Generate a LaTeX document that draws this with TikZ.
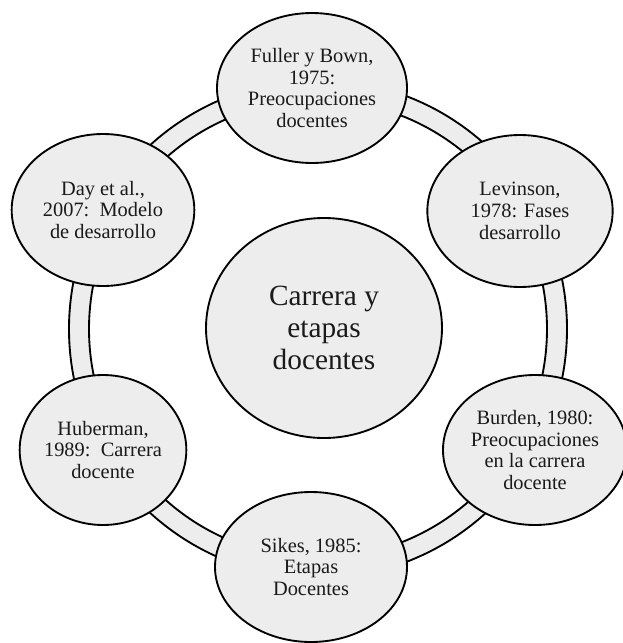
\documentclass[tikz,border=0pt]{standalone}
\usepackage{fontspec}
\setmainfont{Liberation Serif}
\usepackage{tikz}
\usetikzlibrary{shapes.geometric, positioning}
\definecolor{bubblegray}{HTML}{EDEDED}
\definecolor{inkgray}{HTML}{1A1A1A}

\begin{document}
\begin{tikzpicture}[
    x=0.75pt, y=-0.75pt,
    stage/.style={ellipse, draw=black, line width=1.4pt, fill=bubblegray, inner sep=0pt, align=center, text=inkgray, font=\fontsize{15.3}{16.3}\selectfont},
    core/.style={ellipse, draw=black, line width=1.4pt, fill=bubblegray, inner sep=0pt, align=center, text=inkgray, font=\fontsize{22}{24}\selectfont},
    band/.style={fill=bubblegray, even odd rule}
]
\useasboundingbox (0,0) rectangle (623,643);

\coordinate (hub) at (318,329);

% ring behind the bubbles
\fill[band] (hub) circle[radius=186.75pt] circle[radius=171.75pt];
\draw[line width=1.4pt] (hub) circle[radius=186.75pt];
\draw[line width=1.4pt] (hub) circle[radius=171.75pt];

\node[core, minimum width=177pt, minimum height=165pt] (tema) at (324,328) {Carrera y\\etapas\\docentes};

\node[stage, minimum width=142.5pt, minimum height=112.5pt] (fuller) at (312,88) {Fuller y Bown,\\1975:\\Preocupaciones\\docentes};
\node[stage, minimum width=139pt, minimum height=114pt] (levinson) at (520,211) {Levinson,\\1978: Fases\\desarrollo};
\node[stage, minimum width=138pt, minimum height=112.5pt] (burden) at (535,450) {Burden, 1980:\\Preocupaciones\\en la carrera\\docente};
\node[stage, minimum width=144pt, minimum height=112.5pt] (sikes) at (311,567) {Sikes, 1985:\\Etapas\\Docentes};
\node[stage, minimum width=125pt, minimum height=112.5pt] (huberman) at (103,450) {Huberman,\\1989:\ \ Carrera\\docente};
\node[stage, minimum width=137pt, minimum height=114pt] (day) at (103,210) {Day et al.,\\2007:\ \ Modelo\\de desarrollo};

\end{tikzpicture}
\end{document}
